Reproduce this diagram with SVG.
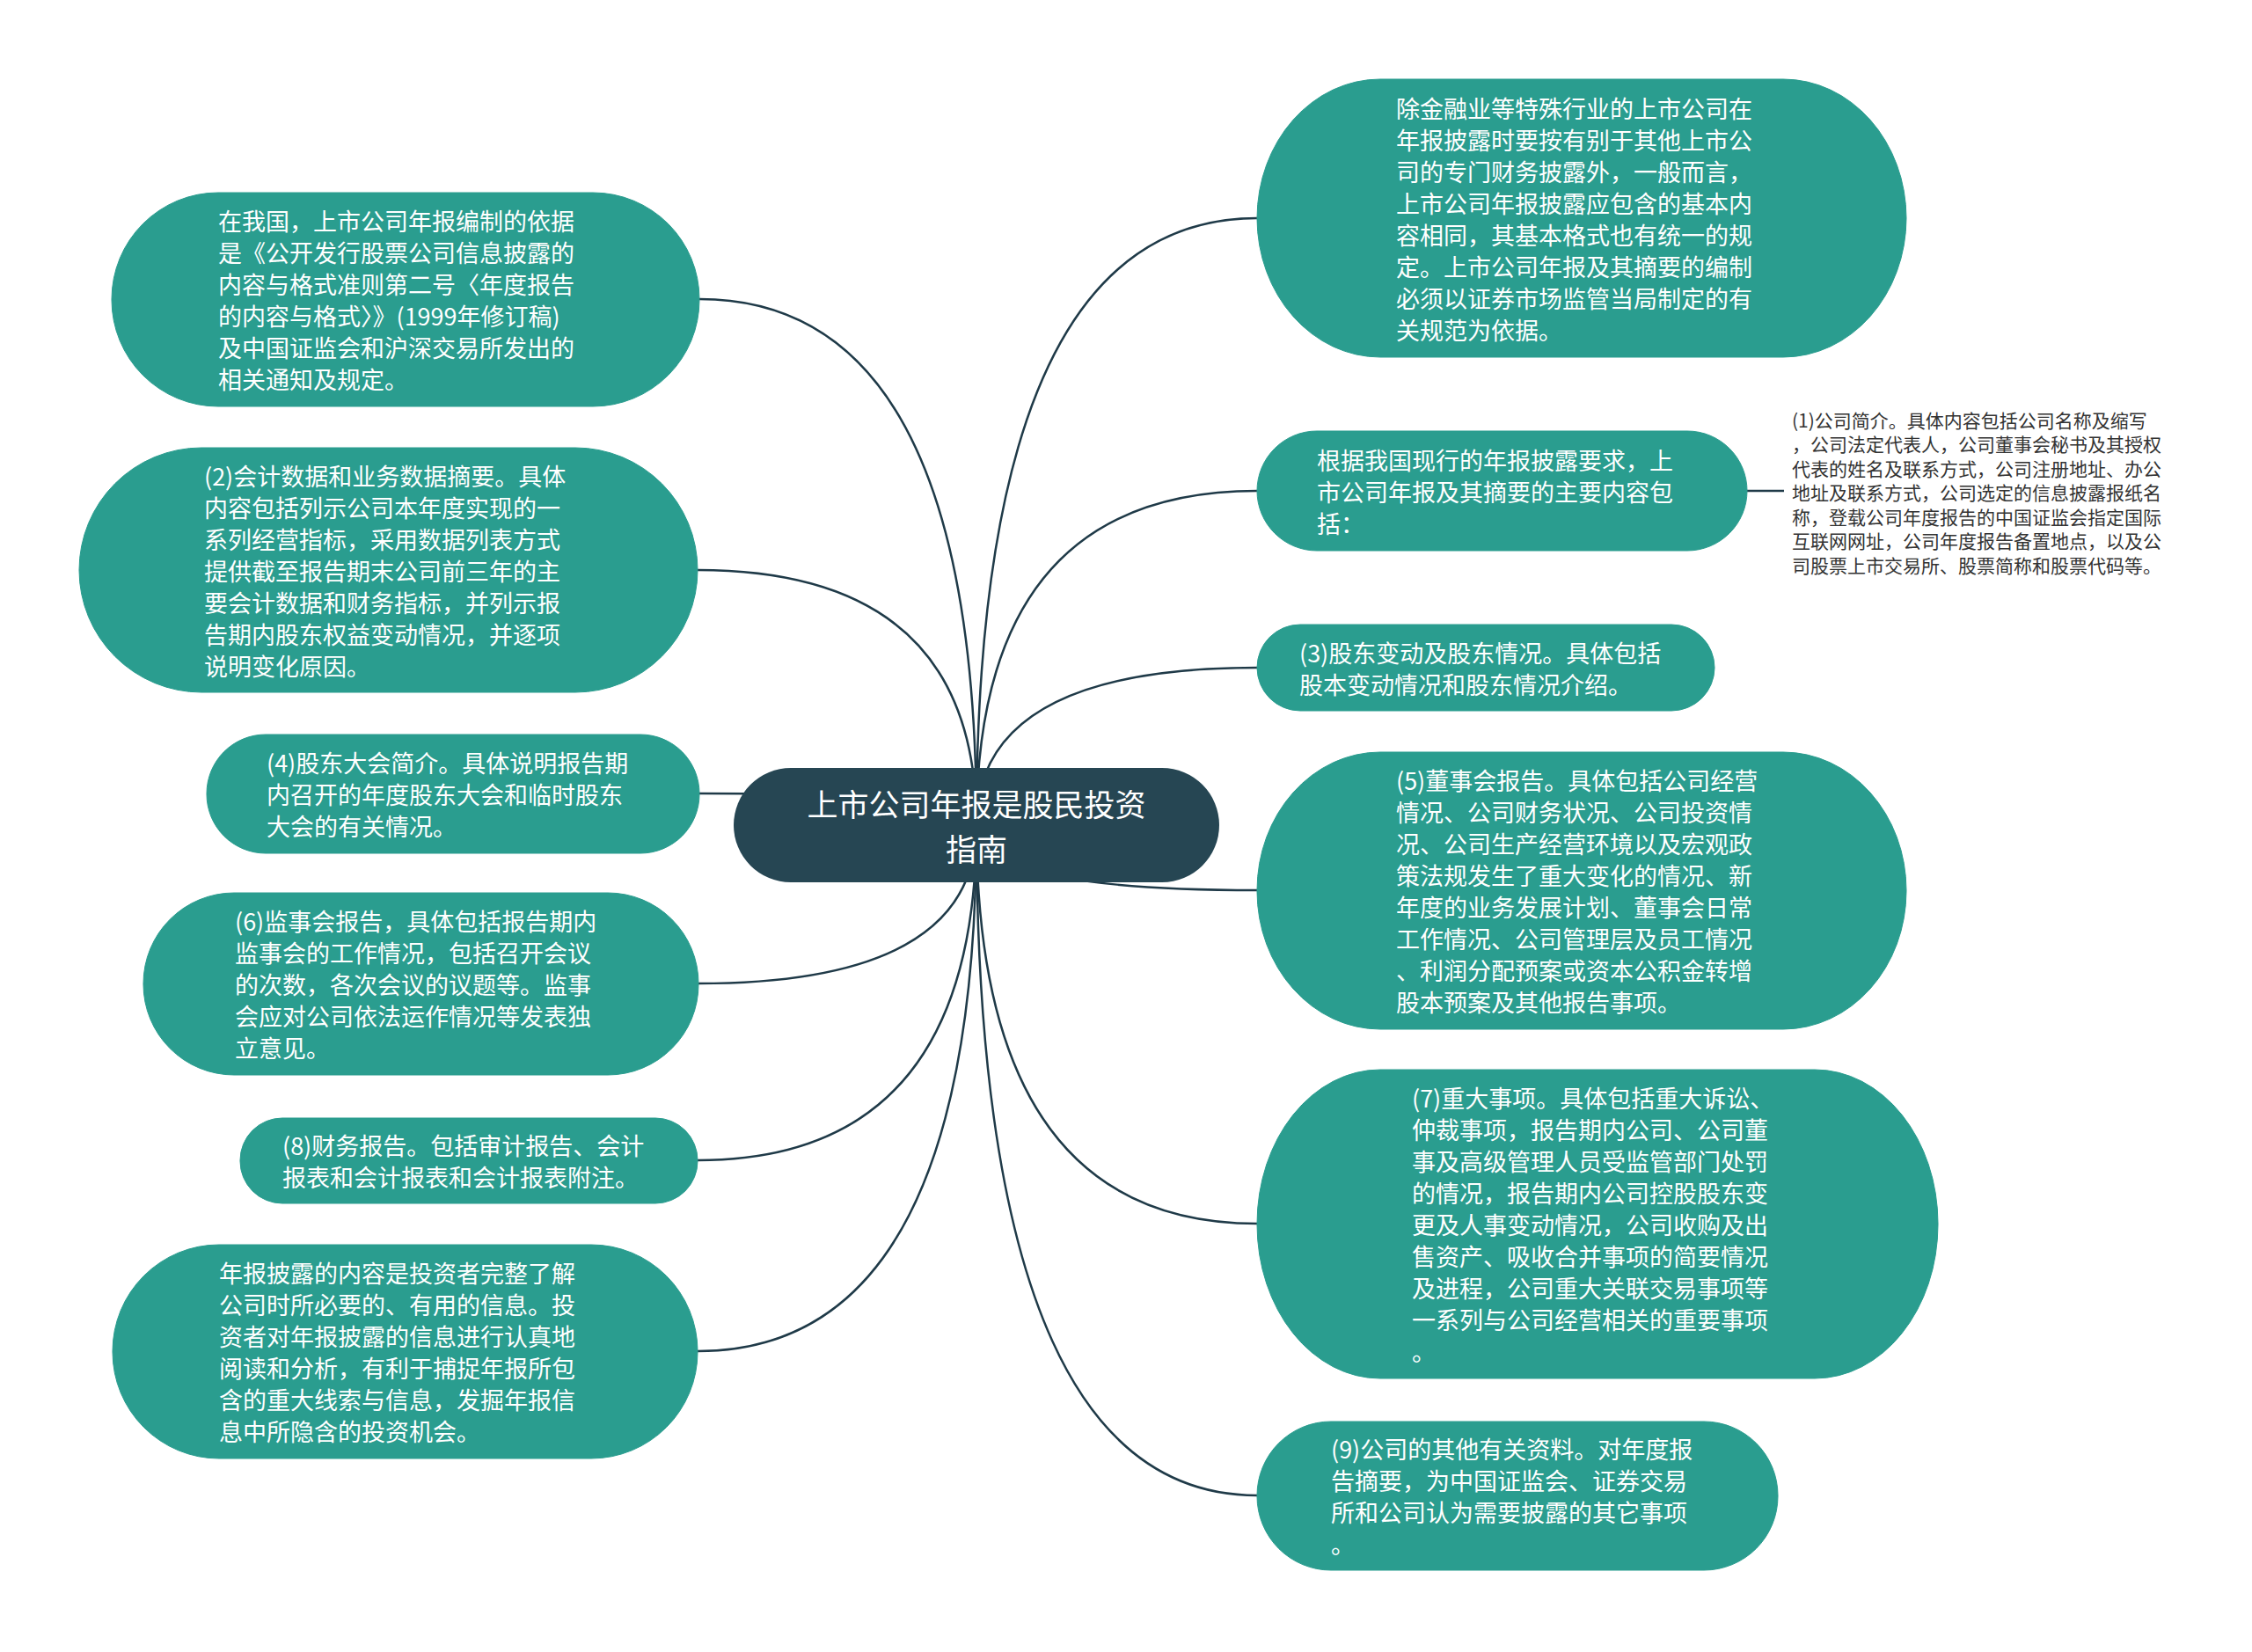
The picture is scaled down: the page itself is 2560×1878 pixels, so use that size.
<svg xmlns="http://www.w3.org/2000/svg" width="2560" height="1878" viewBox="0 0 2560 1878">
<style>
.bg{fill:#ffffff}
.node{fill:#2a9d8f;stroke:#2a9d8f;stroke-width:1}
.root{fill:#264653}
.t{font-family:"Noto Sans CJK SC","Noto Sans",sans-serif;font-size:27px;fill:#ffffff;dominant-baseline:central}
.rt{font-family:"Noto Sans CJK SC","Noto Sans",sans-serif;font-size:35px;fill:#ffffff;dominant-baseline:central;text-anchor:middle}
.st{font-family:"Noto Sans CJK SC","Noto Sans",sans-serif;font-size:21px;fill:#333333;dominant-baseline:central}
.c{fill:none;stroke:#1f3a48;stroke-width:2.5}
</style>
<rect class="bg" x="0" y="0" width="2560" height="1878"/>
<g id="connectors">
<path class="c" d="M1110,938 Q1110,340 795,340"/>
<path class="c" d="M1110,938 Q1110,648 793,648"/>
<path class="c" d="M1110,938 Q1110,902 795,902"/>
<path class="c" d="M1110,938 Q1110,1118 794,1118"/>
<path class="c" d="M1110,938 Q1110,1319 793,1319"/>
<path class="c" d="M1110,938 Q1110,1536 793,1536"/>
<path class="c" d="M1110,938 Q1110,248 1429,248"/>
<path class="c" d="M1110,938 Q1110,558 1429,558"/>
<path class="c" d="M1110,938 Q1110,759 1429,759"/>
<path class="c" d="M1110,938 Q1110,1012 1429,1012"/>
<path class="c" d="M1110,938 Q1110,1391 1429,1391"/>
<path class="c" d="M1110,938 Q1110,1700 1429,1700"/>
<path class="c" d="M1985,558 L2028,558"/>
</g>
<g id="root">
<rect class="root" x="834" y="873" width="552" height="130" rx="65" ry="65"/>
<text class="rt" x="1110" y="912">上市公司年报是股民投资</text>
<text class="rt" x="1110" y="963">指南</text>
</g>
<g id="n1">
<rect class="node" x="127" y="219" width="668" height="243" rx="121" ry="121"/>
<text class="t" x="248" y="250.5">在我国，上市公司年报编制的依据</text>
<text class="t" x="248" y="286.5">是《公开发行股票公司信息披露的</text>
<text class="t" x="248" y="322.5">内容与格式准则第二号〈年度报告</text>
<text class="t" x="248" y="358.5">的内容与格式〉》(1999年修订稿)</text>
<text class="t" x="248" y="394.5">及中国证监会和沪深交易所发出的</text>
<text class="t" x="248" y="430.5">相关通知及规定。</text>
</g>
<g id="n2">
<rect class="node" x="90" y="509" width="703" height="278" rx="139" ry="139"/>
<text class="t" x="232" y="540">(2)会计数据和业务数据摘要。具体</text>
<text class="t" x="232" y="576">内容包括列示公司本年度实现的一</text>
<text class="t" x="232" y="612">系列经营指标，采用数据列表方式</text>
<text class="t" x="232" y="648">提供截至报告期末公司前三年的主</text>
<text class="t" x="232" y="684">要会计数据和财务指标，并列示报</text>
<text class="t" x="232" y="720">告期内股东权益变动情况，并逐项</text>
<text class="t" x="232" y="756">说明变化原因。</text>
</g>
<g id="n4">
<rect class="node" x="235" y="835" width="560" height="135" rx="67" ry="67"/>
<text class="t" x="303" y="866.5">(4)股东大会简介。具体说明报告期</text>
<text class="t" x="303" y="902.5">内召开的年度股东大会和临时股东</text>
<text class="t" x="303" y="938.5">大会的有关情况。</text>
</g>
<g id="n6">
<rect class="node" x="163" y="1015" width="631" height="207" rx="103" ry="103"/>
<text class="t" x="267" y="1046.5">(6)监事会报告，具体包括报告期内</text>
<text class="t" x="267" y="1082.5">监事会的工作情况，包括召开会议</text>
<text class="t" x="267" y="1118.5">的次数，各次会议的议题等。监事</text>
<text class="t" x="267" y="1154.5">会应对公司依法运作情况等发表独</text>
<text class="t" x="267" y="1190.5">立意见。</text>
</g>
<g id="n8">
<rect class="node" x="273" y="1271" width="520" height="97" rx="48" ry="48"/>
<text class="t" x="321" y="1301.5">(8)财务报告。包括审计报告、会计</text>
<text class="t" x="321" y="1337.5">报表和会计报表和会计报表附注。</text>
</g>
<g id="n10">
<rect class="node" x="128" y="1415" width="665" height="243" rx="121" ry="121"/>
<text class="t" x="249" y="1446.5">年报披露的内容是投资者完整了解</text>
<text class="t" x="249" y="1482.5">公司时所必要的、有用的信息。投</text>
<text class="t" x="249" y="1518.5">资者对年报披露的信息进行认真地</text>
<text class="t" x="249" y="1554.5">阅读和分析，有利于捕捉年报所包</text>
<text class="t" x="249" y="1590.5">含的重大线索与信息，发掘年报信</text>
<text class="t" x="249" y="1626.5">息中所隐含的投资机会。</text>
</g>
<g id="n7">
<rect class="node" x="1429" y="90" width="738" height="316" rx="140" ry="158"/>
<text class="t" x="1587" y="122">除金融业等特殊行业的上市公司在</text>
<text class="t" x="1587" y="158">年报披露时要按有别于其他上市公</text>
<text class="t" x="1587" y="194">司的专门财务披露外，一般而言，</text>
<text class="t" x="1587" y="230">上市公司年报披露应包含的基本内</text>
<text class="t" x="1587" y="266">容相同，其基本格式也有统一的规</text>
<text class="t" x="1587" y="302">定。上市公司年报及其摘要的编制</text>
<text class="t" x="1587" y="338">必须以证券市场监管当局制定的有</text>
<text class="t" x="1587" y="374">关规范为依据。</text>
</g>
<g id="n-main">
<rect class="node" x="1429" y="490" width="557" height="136" rx="68" ry="68"/>
<text class="t" x="1497" y="522">根据我国现行的年报披露要求，上</text>
<text class="t" x="1497" y="558">市公司年报及其摘要的主要内容包</text>
<text class="t" x="1497" y="594">括：</text>
</g>
<g id="n1-detail">
<text class="st" x="2037" y="476.5">(1)公司简介。具体内容包括公司名称及缩写</text>
<text class="st" x="2037" y="504">，公司法定代表人，公司董事会秘书及其授权</text>
<text class="st" x="2037" y="531.5">代表的姓名及联系方式，公司注册地址、办公</text>
<text class="st" x="2037" y="559">地址及联系方式，公司选定的信息披露报纸名</text>
<text class="st" x="2037" y="586.5">称，登载公司年度报告的中国证监会指定国际</text>
<text class="st" x="2037" y="614">互联网网址，公司年度报告备置地点，以及公</text>
<text class="st" x="2037" y="641.5">司股票上市交易所、股票简称和股票代码等。</text>
</g>
<g id="n3">
<rect class="node" x="1429" y="710" width="520" height="98" rx="49" ry="49"/>
<text class="t" x="1477" y="741">(3)股东变动及股东情况。具体包括</text>
<text class="t" x="1477" y="777">股本变动情况和股东情况介绍。</text>
</g>
<g id="n5">
<rect class="node" x="1429" y="855" width="738" height="315" rx="140" ry="157"/>
<text class="t" x="1587" y="886.5">(5)董事会报告。具体包括公司经营</text>
<text class="t" x="1587" y="922.5">情况、公司财务状况、公司投资情</text>
<text class="t" x="1587" y="958.5">况、公司生产经营环境以及宏观政</text>
<text class="t" x="1587" y="994.5">策法规发生了重大变化的情况、新</text>
<text class="t" x="1587" y="1030.5">年度的业务发展计划、董事会日常</text>
<text class="t" x="1587" y="1066.5">工作情况、公司管理层及员工情况</text>
<text class="t" x="1587" y="1102.5">、利润分配预案或资本公积金转增</text>
<text class="t" x="1587" y="1138.5">股本预案及其他报告事项。</text>
</g>
<g id="n7b">
<rect class="node" x="1429" y="1216" width="774" height="351" rx="140" ry="175"/>
<text class="t" x="1605" y="1247.5">(7)重大事项。具体包括重大诉讼、</text>
<text class="t" x="1605" y="1283.5">仲裁事项，报告期内公司、公司董</text>
<text class="t" x="1605" y="1319.5">事及高级管理人员受监管部门处罚</text>
<text class="t" x="1605" y="1355.5">的情况，报告期内公司控股股东变</text>
<text class="t" x="1605" y="1391.5">更及人事变动情况，公司收购及出</text>
<text class="t" x="1605" y="1427.5">售资产、吸收合并事项的简要情况</text>
<text class="t" x="1605" y="1463.5">及进程，公司重大关联交易事项等</text>
<text class="t" x="1605" y="1499.5">一系列与公司经营相关的重要事项</text>
<text class="t" x="1605" y="1535.5">。</text>
</g>
<g id="n9">
<rect class="node" x="1429" y="1616" width="592" height="169" rx="84" ry="84"/>
<text class="t" x="1513" y="1646.5">(9)公司的其他有关资料。对年度报</text>
<text class="t" x="1513" y="1682.5">告摘要，为中国证监会、证券交易</text>
<text class="t" x="1513" y="1718.5">所和公司认为需要披露的其它事项</text>
<text class="t" x="1513" y="1754.5">。</text>
</g>
</svg>
